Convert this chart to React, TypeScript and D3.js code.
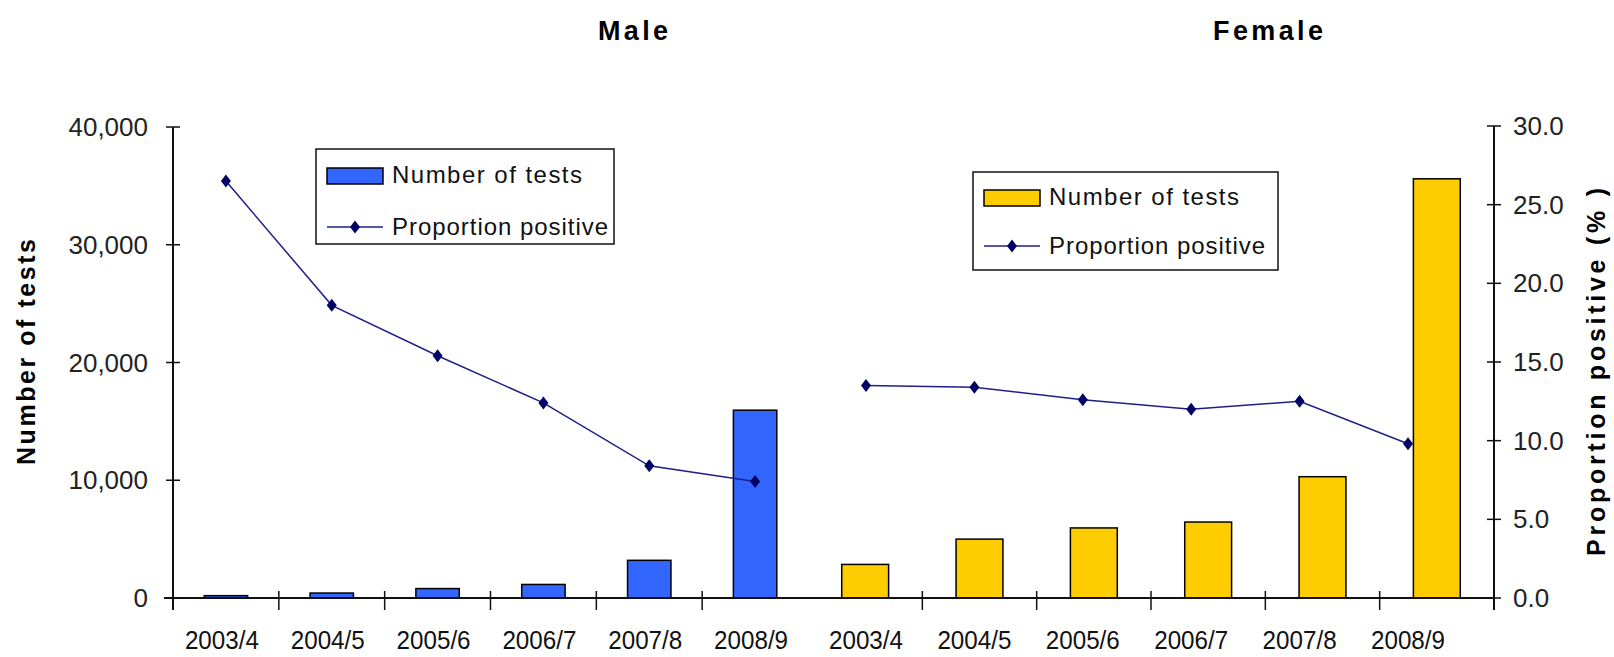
import React from 'react';
import * as d3 from 'd3';

// Two panels glued side by side: bars = number of tests, line = proportion positive
const years = ['2003/4', '2004/5', '2005/6', '2006/7', '2007/8', '2008/9'];
const maleTests = [200, 420, 800, 1150, 3200, 15950];
const femaleTests = [2850, 5000, 5950, 6450, 10300, 35600];
const maleProp = [26.5, 18.6, 15.4, 12.4, 8.4, 7.4];
const femaleProp = [13.5, 13.4, 12.6, 12.0, 12.5, 9.8];
const leftTicks = [0, 10000, 20000, 30000, 40000];
const rightTicks = [0, 5, 10, 15, 20, 25, 30];

const W = 1614, H = 657;
const plot = {left: 173, mid: 808, right: 1494, top: 127, bottom: 598};
const font = '"Liberation Sans", Arial, sans-serif';
const maleColor = '#3366ff';
const femaleColor = '#ffcc00';
const lineColor = '#1f1f8a';
const markerColor = '#000066';

const diamond = (cx: number, cy: number, w = 5, h = 6.5) =>
  `M${cx},${cy - h}L${cx + w},${cy}L${cx},${cy + h}L${cx - w},${cy}Z`;

export default function App() {
  // each panel has its own category scale
  const xM = d3.scaleBand<string>().domain(years).range([plot.left, plot.mid]);
  const xF = d3.scaleBand<string>().domain(years).range([plot.mid, plot.right]);
  // female line and labels sit on a slightly narrower spacing in the original
  const xFL = d3.scalePoint<string>().domain(years).range([866, 1408]);
  const cM = (y: string) => (xM(y) as number) + xM.bandwidth() / 2;
  const cF = (y: string) => (xF(y) as number) + xF.bandwidth() / 2;
  const yL = d3.scaleLinear().domain([0, 40000]).range([plot.bottom, plot.top]);
  const yR = d3.scaleLinear().domain([0, 30]).range([plot.bottom, plot.top - 1]);
  const fmt = d3.format(',');
  const line = d3.line<[number, number]>().x(d => d[0]).y(d => d[1]);

  const malePts = maleProp.map((v, i) => [cM(years[i]), yR(v)] as [number, number]);
  const femalePts = femaleProp.map((v, i) => [xFL(years[i]) as number, yR(v)] as [number, number]);
  const mW = xM.bandwidth() * 0.41;
  const fW = xF.bandwidth() * 0.41;

  const tickXs = [
    ...years.slice(1).map(y => xM(y) as number),
    ...years.slice(1).map(y => xF(y) as number)
  ];

  const legend = (bx: number, by: number, bwid: number, bh: number, color: string, r1: number, r2: number) => (
    <g>
      <rect x={bx} y={by} width={bwid} height={bh} fill="#fff" stroke="#111" strokeWidth={1.5} />
      <rect x={bx + 11} y={by + r1} width={56} height={16} fill={color} stroke="#000" strokeWidth={1.5} />
      <text x={bx + 76} y={by + r1 + 15} fontSize={24} textLength={190} fill="#111">Number of tests</text>
      <line x1={bx + 11} x2={bx + 67} y1={by + r2} y2={by + r2} stroke={lineColor} strokeWidth={1.5} />
      <path d={diamond(bx + 39, by + r2)} fill={markerColor} />
      <text x={bx + 76} y={by + r2 + 8} fontSize={24} textLength={216} fill="#111">Proportion positive</text>
    </g>
  );

  return (
    <svg width={W} height={H} style={{position: 'absolute', left: 0, top: 0, background: '#fff'}} fontFamily={font}>
      <rect width={W} height={H} fill="#fff" />
      {/* titles */}
      <text x={633} y={40} textAnchor="middle" fontSize={27} fontWeight="bold" textLength={70}>Male</text>
      <text x={1268} y={40} textAnchor="middle" fontSize={27} fontWeight="bold" textLength={110}>Female</text>

      {/* bars */}
      {maleTests.map((v, i) => (
        <rect key={'m' + i} x={cM(years[i]) - mW / 2} y={yL(v)} width={mW} height={plot.bottom - yL(v)}
          fill={maleColor} stroke="#000" strokeWidth={1.5} />
      ))}
      {femaleTests.map((v, i) => (
        <rect key={'f' + i} x={cF(years[i]) - fW / 2} y={yL(v)} width={fW} height={plot.bottom - yL(v)}
          fill={femaleColor} stroke="#000" strokeWidth={1.5} />
      ))}

      {/* lines */}
      <path d={line(malePts) || ''} fill="none" stroke={lineColor} strokeWidth={1.5} />
      <path d={line(femalePts) || ''} fill="none" stroke={lineColor} strokeWidth={1.5} />
      {[...malePts, ...femalePts].map((p, k) => (
        <path key={k} d={diamond(p[0], p[1])} fill={markerColor} />
      ))}

      {/* axes */}
      <line x1={plot.left - 9} x2={plot.right} y1={plot.bottom} y2={plot.bottom} stroke="#111" strokeWidth={2} />
      <line x1={plot.left} x2={plot.left} y1={plot.top} y2={plot.bottom + 12} stroke="#111" strokeWidth={2} />
      <line x1={plot.right} x2={plot.right} y1={plot.top - 1} y2={plot.bottom + 12} stroke="#111" strokeWidth={2} />
      {tickXs.map((tx, i) => (
        <line key={i} x1={tx} x2={tx} y1={plot.bottom - 7} y2={plot.bottom + 12} stroke="#111" strokeWidth={1.5} />
      ))}
      {leftTicks.map(t => (
        <g key={t}>
          <line x1={plot.left - 7} x2={plot.left + 7} y1={yL(t)} y2={yL(t)} stroke="#111" strokeWidth={1.5} />
          <text x={plot.left - 25} y={yL(t) + 9} textAnchor="end" fontSize={26} fill="#222">{fmt(t)}</text>
        </g>
      ))}
      {rightTicks.map(t => (
        <g key={t}>
          <line x1={plot.right - 7} x2={plot.right + 7} y1={yR(t)} y2={yR(t)} stroke="#111" strokeWidth={1.5} />
          <text x={plot.right + 19} y={yR(t) + 9} fontSize={26} fill="#222">{t.toFixed(1)}</text>
        </g>
      ))}
      {years.map(y => (
        <text key={'lm' + y} x={cM(y) - 4} y={649} textAnchor="middle" fontSize={26} fill="#111"
          textLength={74} lengthAdjust="spacingAndGlyphs">{y}</text>
      ))}
      {years.map(y => (
        <text key={'lf' + y} x={xFL(y) as number} y={649} textAnchor="middle" fontSize={26} fill="#111"
          textLength={74} lengthAdjust="spacingAndGlyphs">{y}</text>
      ))}

      {/* axis titles */}
      <text transform="translate(35,352) rotate(-90)" textAnchor="middle" fontSize={25} fontWeight="bold" textLength={226}>Number of tests</text>
      <text transform="translate(1605,372) rotate(-90)" textAnchor="middle" fontSize={25} fontWeight="bold" textLength={368}>Proportion positive (% )</text>

      {/* legends */}
      {legend(316, 149, 298, 95, maleColor, 19, 78)}
      {legend(973, 172, 305, 98, femaleColor, 18, 74)}
    </svg>
  );
}
